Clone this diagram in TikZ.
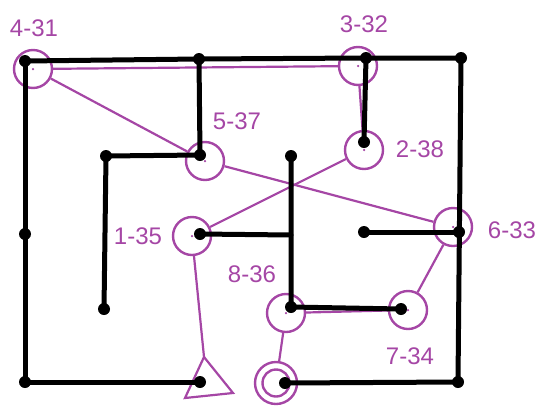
\documentclass[tikz,border=0pt]{standalone}
\usepackage{fontspec}
\setmainfont{Liberation Sans}
\definecolor{mg}{RGB}{165,70,165}
\begin{document}
\begin{tikzpicture}[x=1pt,y=-1pt,
 wall/.style={line width=5pt, line cap=round, line join=round},
 jn/.style={circle, fill=black, inner sep=0pt, minimum size=12pt},
 room/.style={circle, draw=mg, line width=2.4pt, inner sep=0pt, minimum size=38pt},
 link/.style={draw=mg, line width=2.2pt},
 lbl/.style={text=mg, font=\fontsize{24}{28}\selectfont, inner sep=0pt},
 cdot/.style={circle, fill=mg, inner sep=0pt, minimum size=2.5pt}]
\useasboundingbox (0,0) rectangle (540,405);
% rooms
\node[room] (r431) at (33,69) {};
\node[room] (r332) at (358,66) {};
\node[room] (r537) at (205,161) {};
\node[room] (r238) at (364,150) {};
\node[room] (r135) at (192,236) {};
\node[room] (r633) at (453,227) {};
\node[room] (r836) at (286,313) {};
\node[room] (r734) at (408,310) {};
\node[room, minimum size=42pt] (rout) at (276,383) {};
\node[room, minimum size=27pt] (rin) at (276,383) {};
\foreach \n in {r431,r332,r537,r238,r135,r633,r836,r734}
  \node[cdot] at (\n.center) {};
% triangle
\coordinate (tA) at (204,357);
\coordinate (tB) at (185,398);
\coordinate (tC) at (233,393);
\draw[link, line join=miter] (tA) -- (tB) -- (tC) -- cycle;
% labels
\node[lbl] (l431) at (34,28) {4-31};
\node[lbl] (l332) at (364,24) {3-32};
\node[lbl] (l537) at (237,121) {5-37};
\node[lbl] (l238) at (420,149) {2-38};
\node[lbl] (l135) at (138,236) {1-35};
\node[lbl] (l633) at (512,230) {6-33};
\node[lbl] (l836) at (252,274) {8-36};
\node[lbl] (l734) at (410,356) {7-34};
% links
\draw[link] (r431) -- (r332);
\draw[link] (r431) -- (r537);
\draw[link] (r332) -- (r238);
\draw[link] (r238) -- (r135);
\draw[link] (r537) -- (r633);
\draw[link] (r633) -- (r734);
\draw[link] (r734) -- (r836);
\draw[link] (r836) -- (rout);
\draw[link] (r135) -- (tA);
% wall points
\node[jn] (a1) at (25,61) {};
\node[jn] (a2) at (199,59) {};
\node[jn] (a3) at (366,58) {};
\node[jn] (a4) at (461,58) {};
\node[jn] (a5) at (458,382) {};
\node[jn] (a6) at (285,383) {};
\node[jn] (a7) at (25,234) {};
\node[jn] (a8) at (25,382) {};
\node[jn] (a9) at (200,382) {};
\node[jn] (a10) at (200,155) {};
\node[jn] (a11) at (106,156) {};
\node[jn] (a12) at (104,309) {};
\node[jn] (a13) at (364,142) {};
\node[jn] (a14) at (291,156) {};
\coordinate (c1) at (291,235);
\node[jn] (a15) at (291,307) {};
\node[jn] (a16) at (401,309) {};
\node[jn] (a17) at (200,234) {};
\node[jn] (a18) at (364,232) {};
\node[jn] (a19) at (459,232) {};
% walls
\draw[wall] (a1.center) -- (a2.center) -- (a3.center) -- (a4.center) -- (a5.center) -- (a6.center);
\draw[wall] (a1.center) -- (a7.center) -- (a8.center) -- (a9.center);
\draw[wall] (a2.center) -- (a10.center) -- (a11.center) -- (a12.center);
\draw[wall] (a3.center) -- (a13.center);
\draw[wall] (a14.center) -- (c1) -- (a15.center) -- (a16.center);
\draw[wall] (a17.center) -- (c1);
\draw[wall] (a18.center) -- (a19.center);
\end{tikzpicture}
\end{document}
